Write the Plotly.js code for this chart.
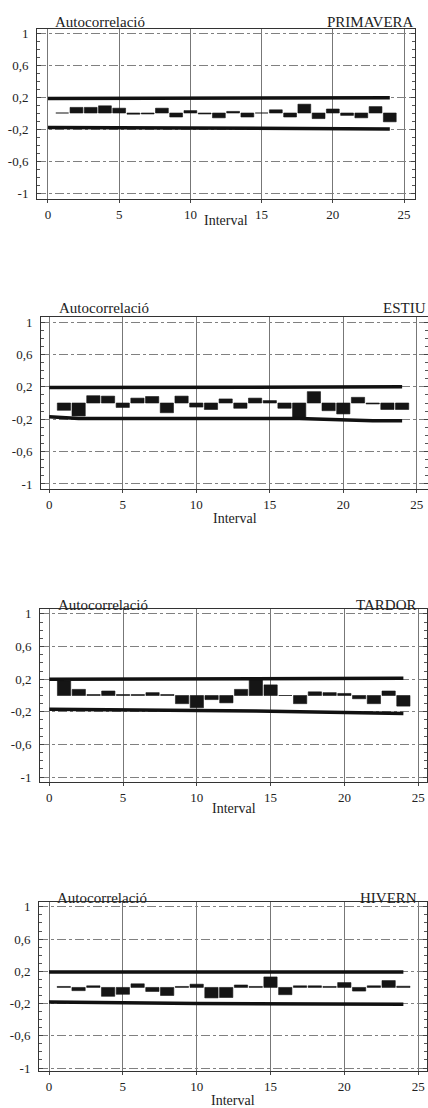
<!DOCTYPE html>
<html>
<head>
<meta charset="utf-8">
<script src="https://cdn.plot.ly/plotly-3.0.1.min.js"></script>
<style>html,body{margin:0;padding:0;background:#fff;}#chart{width:428px;height:1108px;}</style>
</head>
<body>
<div id="chart"></div>
<script>
// ---- data ----
const lags = [1,2,3,4,5,6,7,8,9,10,11,12,13,14,15,16,17,18,19,20,21,22,23,24];
const primavera = [0, 0.07, 0.07, 0.09, 0.06, -0.015, -0.012, 0.06, -0.05, 0.03, -0.012, -0.06, 0.02, -0.05, 0, 0.04, -0.05, 0.11, -0.07, 0.05, -0.03, -0.06, 0.08, -0.11];
const estiu = [-0.09, -0.16, 0.09, 0.085, -0.055, 0.06, 0.08, -0.12, 0.085, -0.05, -0.08, 0.05, -0.065, 0.06, 0.03, -0.065, -0.2, 0.14, -0.095, -0.135, 0.07, -0.012, -0.08, -0.08];
const tardor = [0.18, 0.075, 0.012, 0.055, 0.012, 0.012, 0.035, 0.012, -0.1, -0.15, -0.05, -0.09, 0.075, 0.2, 0.13, 0, -0.1, 0.045, 0.035, 0.025, -0.04, -0.1, 0.055, -0.13];
const hivern = [0.012, -0.04, 0.02, -0.11, -0.085, 0.045, -0.05, -0.1, 0.012, 0.04, -0.13, -0.125, 0.03, 0.012, 0.13, -0.09, 0.02, 0.02, 0.012, 0.06, -0.045, 0.02, 0.085, 0.015];

// confidence limits (lag, value)
const primUpLag = [0, 20, 24], primUp = [0.18, 0.18, 0.19];
const primLoLag = [0, 15, 24], primLo = [-0.18, -0.19, -0.2];
const estiUpLag = [0, 22, 24], estiUp = [0.19, 0.2, 0.2];
const estiLoLag = [0, 2, 17, 22, 24], estiLo = [-0.17, -0.19, -0.19, -0.22, -0.22];
const tardUpLag = [0, 15, 24], tardUp = [0.2, 0.2, 0.21];
const tardLoLag = [0, 14, 24], tardLo = [-0.17, -0.19, -0.22];
const hiveUpLag = [0, 24], hiveUp = [0.19, 0.19];
const hiveLoLag = [0, 10, 24], hiveLo = [-0.18, -0.2, -0.21];

const seasons = ['PRIMAVERA', 'ESTIU', 'TARDOR', 'HIVERN'];
const yLabel = 'Autocorrelació';
const xLabel = 'Interval';
const xTickVals = [0, 5, 10, 15, 20, 25];
const xTickText = ['0', '5', '10', '15', '20', '25'];
const yTickVals = [1, 0.6, 0.2, -0.2, -0.6, -1];
const yTickText = ['1', '0,6', '0,2', '-0,2', '-0,6', '-1'];

// ---- layout geometry (pixels) ----
const W = 428, H = 1108;
const panels = [
  {vals: primavera, upL: primUpLag, up: primUp, loL: primLoLag, lo: primLo,
   left: 37, right: 415, top: 29, bottom: 199, xr: [-0.77, 25.77], yr: [-1.075, 1.05],
   titleY: 22, seasonX: 416, xTitleY: 221},
  {vals: estiu, upL: estiUpLag, up: estiUp, loL: estiLoLag, lo: estiLo,
   left: 41, right: 428, top: 317, bottom: 489, xr: [-0.56, 25.76], yr: [-1.062, 1.062],
   titleY: 308, seasonX: 429, xTitleY: 518},
  {vals: tardor, upL: tardUpLag, up: tardUp, loL: tardLoLag, lo: tardLo,
   left: 40, right: 427, top: 609, bottom: 782, xr: [-0.63, 25.6], yr: [-1.06, 1.06],
   titleY: 605, seasonX: 418, xTitleY: 808},
  {vals: hivern, upL: hiveUpLag, up: hiveUp, loL: hiveLoLag, lo: hiveLo,
   left: 39, right: 427, top: 902, bottom: 1071, xr: [-0.68, 25.6], yr: [-1.037, 1.06],
   titleY: 898, seasonX: 419, xTitleY: 1100}
];

const font = 'Liberation Serif, Times New Roman, serif';
const traces = [];
const layout = {
  width: W, height: H,
  margin: {l: 0, r: 0, t: 0, b: 0},
  paper_bgcolor: '#fff', plot_bgcolor: '#fff',
  showlegend: false,
  font: {family: font, color: '#222', size: 13},
  annotations: []
};

panels.forEach((p, i) => {
  const n = i === 0 ? '' : String(i + 1);
  const xa = 'x' + n, ya = 'y' + n;
  traces.push({
    type: 'bar', x: lags, y: p.vals, xaxis: xa, yaxis: ya, width: 0.9,
    marker: {color: '#151515', line: {color: '#151515', width: 0.6}},
    hoverinfo: 'x+y'
  });
  traces.push({type: 'scatter', mode: 'lines', x: p.upL, y: p.up, xaxis: xa, yaxis: ya,
    line: {color: '#111', width: 3.5}, hoverinfo: 'skip'});
  traces.push({type: 'scatter', mode: 'lines', x: p.loL, y: p.lo, xaxis: xa, yaxis: ya,
    line: {color: '#111', width: 3.5}, hoverinfo: 'skip'});

  layout['xaxis' + n] = {
    domain: [p.left / W, p.right / W], anchor: ya, range: p.xr,
    tickmode: 'array', tickvals: xTickVals, ticktext: xTickText,
    ticks: 'outside', ticklen: 3, tickcolor: '#444',
    showgrid: true, gridcolor: '#777', gridwidth: 1,
    showline: true, linecolor: '#333', linewidth: 1, mirror: true,
    zeroline: false, fixedrange: true,
    tickfont: {family: font, size: 13, color: '#222'}
  };
  layout['yaxis' + n] = {
    domain: [1 - p.bottom / H, 1 - p.top / H], anchor: xa, range: p.yr,
    tickmode: 'array', tickvals: yTickVals, ticktext: yTickText,
    ticks: 'inside', ticklen: 4, tickcolor: '#444',
    minor: {ticks: 'inside', ticklen: 3, dtick: 0.1, tick0: 0, tickcolor: '#555', showgrid: false},
    showgrid: true, gridcolor: '#808080', gridwidth: 1, griddash: 'dashdot',
    showline: true, linecolor: '#333', linewidth: 1, mirror: 'allticks',
    zeroline: false, fixedrange: true, ticklabelstandoff: 5,
    tickfont: {family: font, size: 13, color: '#222'}
  };
  layout.annotations.push({
    xref: 'paper', yref: 'paper', x: (p.left + 16) / W, y: 1 - p.titleY / H,
    xanchor: 'left', yanchor: 'middle', showarrow: false, text: yLabel,
    font: {family: font, size: 15, color: '#222'}
  });
  layout.annotations.push({
    xref: 'paper', yref: 'paper', x: Math.min(p.seasonX, W) / W, y: 1 - p.titleY / H,
    xanchor: 'right', yanchor: 'middle', showarrow: false, text: seasons[i],
    font: {family: font, size: 15, color: '#222'}
  });
  layout.annotations.push({
    xref: xa + ' domain', yref: 'paper', x: 0.5, y: 1 - p.xTitleY / H,
    xanchor: 'center', yanchor: 'middle', showarrow: false, text: xLabel,
    font: {family: font, size: 14, color: '#222'}
  });
});

Plotly.newPlot('chart', traces, layout, {staticPlot: true});
</script>
</body>
</html>
